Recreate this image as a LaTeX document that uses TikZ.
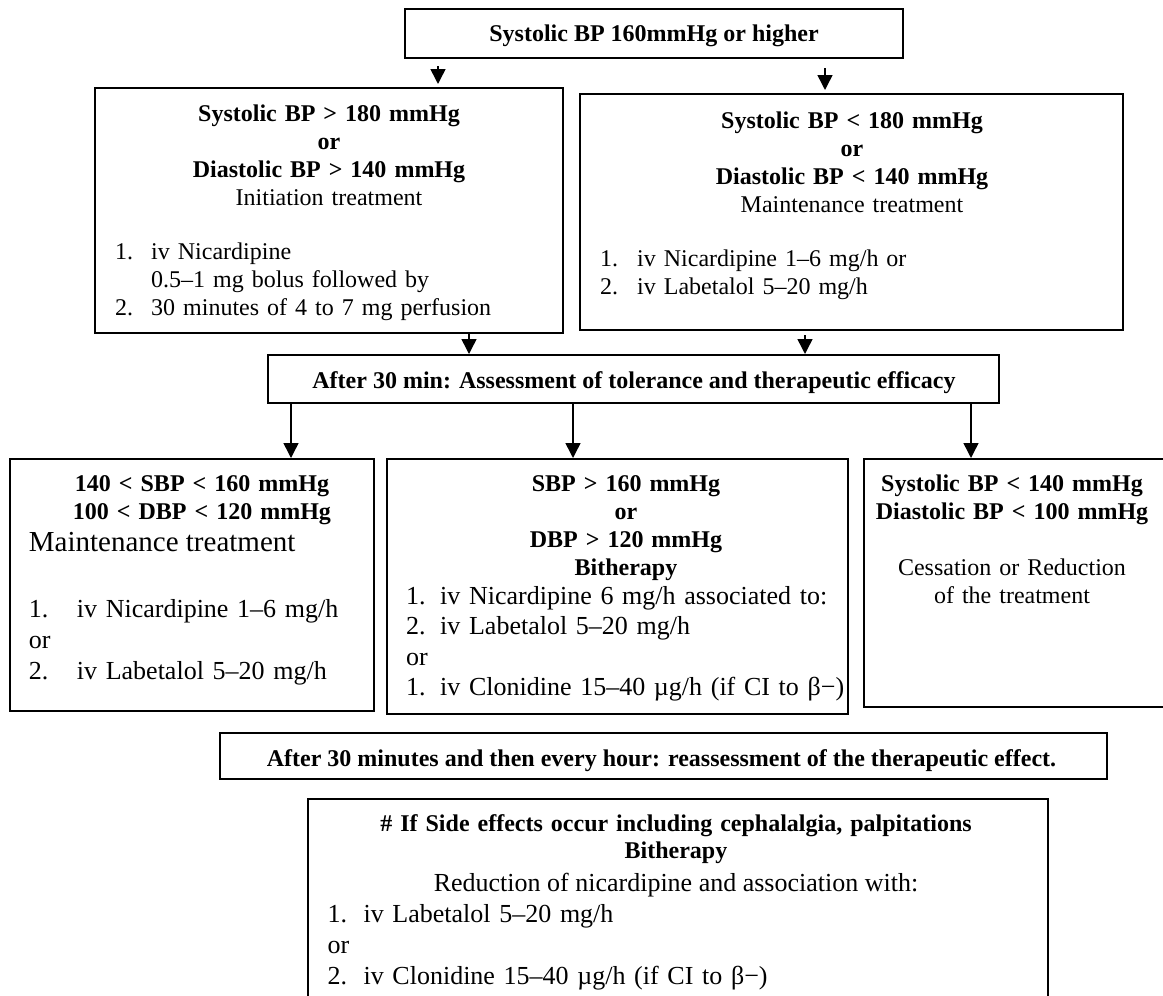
\documentclass[tikz,border=0pt]{standalone}
\usepackage{fontspec}
\setmainfont{Liberation Serif}
\usetikzlibrary{arrows.meta,calc}
\begin{document}
\begin{tikzpicture}[x=1pt,y=-1pt,
  box/.style={draw=black,line width=1.5pt,inner sep=0pt,outer sep=0pt},
  arr/.style={line width=1.5pt,-{Triangle[width=15pt,length=15pt]}},
  ctxt/.style={inner sep=0pt,anchor=base,text width=700pt,align=center},
  ltxt/.style={inner sep=0pt,anchor=base west,text width=700pt,align=left},
  f24/.style={font=\fontsize{24}{28}\selectfont},
  f24b/.style={font=\fontsize{24}{28}\selectfont\bfseries},
  f26/.style={font=\fontsize{26}{31}\selectfont},
]
\useasboundingbox (0,0) rectangle (1163,996);

% boxes
\node[box,minimum width=498pt,minimum height=49pt] (T) at (654,33.5) {};
\node[box,minimum width=468pt,minimum height=245pt] (L1) at (329,210.5) {};
\node[box,minimum width=543pt,minimum height=236pt] (R1) at (851.5,212) {};
\node[box,minimum width=731pt,minimum height=48pt] (AF) at (633.5,379) {};
\node[box,minimum width=364pt,minimum height=252pt] (LL) at (192,585) {};
\node[box,minimum width=461pt,minimum height=255pt] (LM) at (617.5,586.5) {};
\node[box,minimum width=306pt,minimum height=248pt] (LR) at (1017,583) {};
\node[box,minimum width=887pt,minimum height=46pt] (AM) at (663.5,756) {};
\node[box,minimum width=740pt,minimum height=211pt] (BT) at (678,904.5) {};

% texts
\node[f24b,inner sep=0pt,anchor=base] (Tt) at (654,41) {Systolic BP 160mmHg or higher};

\node[ctxt,f24] (L1h) at (329,121) {\textbf{Systolic BP > 180 mmHg}\\\textbf{or}\\\textbf{Diastolic BP > 140 mmHg}\\Initiation treatment};
\node[ltxt,f24] (L1l) at (115,259) {\makebox[36pt][l]{1.}iv Nicardipine\\\hspace*{36pt}0.5–1 mg bolus followed by\\\makebox[36pt][l]{2.}30 minutes of 4 to 7 mg perfusion};

\node[ctxt,f24] (R1h) at (852,128) {\textbf{Systolic BP < 180 mmHg}\\\textbf{or}\\\textbf{Diastolic BP < 140 mmHg}\\Maintenance treatment};
\node[ltxt,f24] (R1l) at (600,266) {\makebox[37pt][l]{1.}iv Nicardipine 1–6 mg/h or\\\makebox[37pt][l]{2.}iv Labetalol 5–20 mg/h};

\node[f24b,inner sep=0pt,anchor=base] (AFt) at (634,388) {After 30 min: Assessment of tolerance and therapeutic efficacy};

\node[ctxt,font=\fontsize{24}{28.5}\selectfont\bfseries] (LLh) at (202,491) {140 < SBP < 160 mmHg\\100 < DBP < 120 mmHg};
\node[inner sep=0pt,anchor=base west,font=\fontsize{29}{33}\selectfont] (LLm) at (28.7,551) {Maintenance treatment};
\node[ltxt,f26] (LLl) at (28.7,617) {\makebox[48pt][l]{1.}iv Nicardipine 1–6 mg/h\\or\\\makebox[48pt][l]{2.}iv Labetalol 5–20 mg/h};

\node[ctxt,f24b] (LMh) at (626,491) {SBP > 160 mmHg\\or\\DBP > 120 mmHg\\Bitherapy};
\node[ltxt,font=\fontsize{26}{30.5}\selectfont] (LMl) at (406,604) {\makebox[34pt][l]{1.}iv Nicardipine 6 mg/h associated to:\\\makebox[34pt][l]{2.}iv Labetalol 5–20 mg/h\\or\\\makebox[34pt][l]{1.}iv Clonidine 15–40 µg/h (if CI to β−)};

\node[ctxt,f24b] (LRh) at (1012,491) {Systolic BP < 140 mmHg\\Diastolic BP < 100 mmHg};
\node[ctxt,f24] (LRb) at (1012,575) {Cessation or Reduction\\of the treatment};

\node[f24b,inner sep=0pt,anchor=base] (AMt) at (661.5,766) {After 30 minutes and then every hour: reassessment of the therapeutic effect.};

\node[ctxt,font=\fontsize{24}{27}\selectfont\bfseries] (BTh) at (676,831) {\# If Side effects occur including cephalalgia, palpitations\\Bitherapy};
\node[inner sep=0pt,anchor=base,f26] (BTr) at (676,891) {Reduction of nicardipine and association with:};
\node[ltxt,f26] (BTl) at (327.4,922) {\makebox[36pt][l]{1.}iv Labetalol 5–20 mg/h\\or\\\makebox[36pt][l]{2.}iv Clonidine 15–40 µg/h (if CI to β−)};

% connectors
\coordinate (a1) at (438,0);
\coordinate (a2) at (825,0);
\coordinate (a3) at (469,0);
\coordinate (a4) at (805,0);
\coordinate (b1) at (291,0);
\coordinate (b2) at (573,0);
\coordinate (b3) at (971,0);
\draw[arr,shorten <=8pt,shorten >=4pt] (a1 |- T.south) -- (a1 |- L1.north);
\draw[arr,shorten <=10pt,shorten >=4pt] (a2 |- T.south) -- (a2 |- R1.north);
\draw[arr,shorten >=1pt] (a3 |- L1.south) -- (a3 |- AF.north);
\draw[arr,shorten <=5pt,shorten >=1pt] (a4 |- R1.south) -- (a4 |- AF.north);
\draw[arr,shorten >=1pt] (b1 |- AF.south) -- (b1 |- LL.north);
\draw[arr,shorten >=1pt] (b2 |- AF.south) -- (b2 |- LM.north);
\draw[arr,shorten >=1pt] (b3 |- AF.south) -- (b3 |- LR.north);
\end{tikzpicture}
\end{document}
